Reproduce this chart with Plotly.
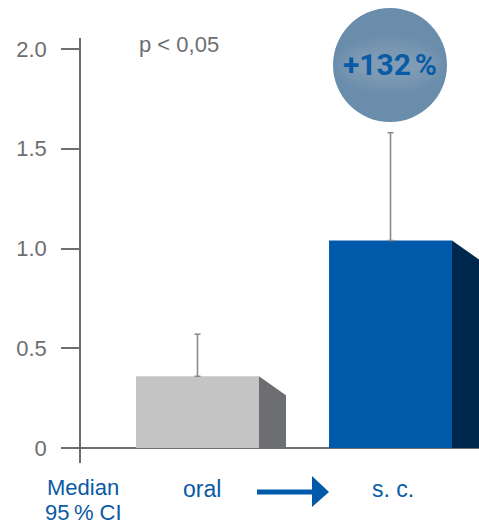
import plotly.graph_objects as go

# ---- data ----
categories = ["oral", "s. c."]
medians = [0.36, 1.04]
ci_upper = [0.57, 1.58]
tick_vals = [0, 0.5, 1.0, 1.5, 2.0]
tick_text = ["0", "0.5", "1.0", "1.5", "2.0"]
front_colors = ["#c4c4c4", "#0059a9"]
side_colors = ["#6d6e71", "#00284d"]
change_label = "+132\u202f%"
p_label = "p < 0,05"

W, H = 479, 524
ML, MR, MT, MB = 81, 0, 38, 61
PW, PH = W - ML - MR, H - MT - MB

def px(x):
    return (x - ML) / PW

def py(y):
    return (H - MB - y) / PH

x_pos = list(range(len(categories)))
bar_w = 0.637
depth_x = 0.14
depth_y = 0.095
gray = "#6d6e71"
blue = "#0a5aa6"

fig = go.Figure()

fig.add_trace(go.Bar(
    x=x_pos, y=medians, width=bar_w,
    marker=dict(color=front_colors, line=dict(width=0)),
    error_y=dict(type="data", symmetric=False,
                 array=[u - m for u, m in zip(ci_upper, medians)],
                 arrayminus=[0, 0], color="#8a8a8d", thickness=1.6, width=3),
    hoverinfo="skip", showlegend=False,
))

for xi, v, c in zip(x_pos, medians, side_colors):
    xr = xi + bar_w / 2
    fig.add_trace(go.Scatter(
        x=[xr, xr + depth_x, xr + depth_x, xr, xr],
        y=[v, v - depth_y, 0, 0, v],
        mode="lines", fill="toself", fillcolor=c,
        line=dict(width=0, color=c), hoverinfo="skip", showlegend=False,
    ))

shapes = []
# circle badge with soft highlight
cx, cy, r = px(390), py(65), 57
shapes.append(dict(type="circle", xref="paper", yref="paper", xsizemode="pixel", ysizemode="pixel",
                   xanchor=cx, yanchor=cy, x0=-r, x1=r, y0=-r, y1=r,
                   fillcolor="#6a8dac", line=dict(width=0), layer="above"))
for k in range(8):
    hw = 55 - k * 3
    hh = 30 - k * 3.2
    shapes.append(dict(type="circle", xref="paper", yref="paper", xsizemode="pixel", ysizemode="pixel",
                       xanchor=cx, yanchor=cy, x0=-hw, x1=hw, y0=-hh, y1=hh,
                       fillcolor="#a9c0d4", opacity=0.06, line=dict(width=0), layer="above"))
# arrow
shapes.append(dict(type="rect", xref="paper", yref="paper",
                   x0=px(257), x1=px(314), y0=py(489.5), y1=py(494.5),
                   fillcolor="#0059a9", line=dict(width=0)))
shapes.append(dict(type="path", xref="paper", yref="paper",
                   path=f"M {px(312)} {py(476)} L {px(329)} {py(492)} L {px(312)} {py(507)} Z",
                   fillcolor="#0059a9", line=dict(width=0)))

annotations = [
    dict(text=change_label, x=cx, y=cy, xref="paper", yref="paper", showarrow=False,
         xanchor="center", yanchor="middle",
         font=dict(family="Roboto", size=30, color="#0a5aa6", weight="bold")),
    dict(text=p_label, x=px(137), y=py(44), xref="paper", yref="paper", showarrow=False,
         xanchor="left", yanchor="middle",
         font=dict(family="Liberation Sans, Arial", size=22, color=gray)),
    dict(text="Median", x=px(83), y=py(487.5), xref="paper", yref="paper", showarrow=False,
         xanchor="center", yanchor="middle",
         font=dict(family="Liberation Sans, Arial", size=22, color=blue)),
    dict(text="95\u202f% CI", x=px(83), y=py(512.5), xref="paper", yref="paper", showarrow=False,
         xanchor="center", yanchor="middle",
         font=dict(family="Liberation Sans, Arial", size=22, color=blue)),
]
for xi, name, sh in zip(x_pos, categories, [4, 2]):
    annotations.append(dict(text=name, x=xi, y=py(489), xref="x", yref="paper", showarrow=False,
                            xanchor="center", yanchor="middle", xshift=sh,
                            font=dict(family="Liberation Sans, Arial", size=23, color=blue)))

fig.update_layout(
    width=W, height=H, margin=dict(l=ML, r=MR, t=MT, b=MB),
    paper_bgcolor="white", plot_bgcolor="white",
    shapes=shapes, annotations=annotations, showlegend=False,
    xaxis=dict(visible=False, range=[-0.6036, 1.4585], fixedrange=True),
    yaxis=dict(range=[-0.075, 2.055], tickvals=tick_vals, ticktext=tick_text,
               showgrid=False, zeroline=True, zerolinecolor=gray, zerolinewidth=1.5,
               showline=True, linecolor=gray, linewidth=1.5,
               ticks="outside", ticklen=18, tickwidth=1.5, tickcolor=gray,
               ticklabelstandoff=10,
               tickfont=dict(family="Liberation Sans, Arial", size=22, color=gray),
               fixedrange=True),
)

fig.write_html("out.html")
